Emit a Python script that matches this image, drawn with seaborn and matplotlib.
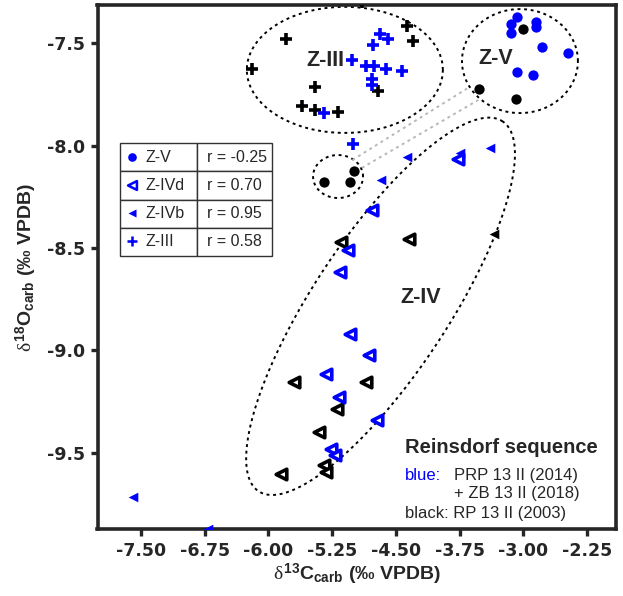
import numpy as np
import pandas as pd
import matplotlib
matplotlib.use("Agg")
import matplotlib.pyplot as plt
import seaborn as sns

# --- data: d13C (x) / d18O (y), per zone and data source ---
zv_blue_x = [-3.07, -3.14, -3.15, -2.85, -2.85, -2.78, -2.48, -3.08, -2.89]
zv_blue_y = [-7.373, -7.406, -7.451, -7.394, -7.419, -7.520, -7.549, -7.640, -7.653]
zv_black_x = [-3.01, -3.52, -3.09, -5.35, -5.04, -4.99]
zv_black_y = [-7.430, -7.725, -7.774, -8.176, -8.176, -8.126]

zivd_blue_x = [-3.77, -4.78, -5.06, -5.16, -5.04, -4.82, -5.32, -5.17, -4.72, -5.26, -5.21]
zivd_blue_y = [-8.065, -8.315, -8.510, -8.616, -8.921, -9.025, -9.116, -9.227, -9.341, -9.483, -9.512]
zivd_black_x = [-5.15, -4.35, -5.70, -4.85, -5.19, -5.40, -5.34, -5.32, -5.85]
zivd_black_y = [-8.470, -8.458, -9.157, -9.157, -9.287, -9.401, -9.561, -9.594, -9.605]

zivb_blue_x = [-4.37, -3.39, -4.68, -3.75, -7.59, -6.71]
zivb_blue_y = [-8.054, -8.012, -8.168, -8.035, -9.719, -9.875]
zivb_black_x = [-3.35]
zivb_black_y = [-8.432]

ziii_blue_x = [-4.69, -4.59, -4.77, -5.01, -4.85, -4.76, -4.62, -4.43, -4.78, -4.78, -5.34, -5.00]
ziii_blue_y = [-7.456, -7.480, -7.510, -7.583, -7.611, -7.611, -7.624, -7.634, -7.673, -7.704, -7.839, -7.992]
ziii_black_x = [-5.79, -6.19, -5.45, -5.60, -5.45, -5.18, -4.37, -4.30, -4.71, -4.90]
ziii_black_y = [-7.479, -7.624, -7.715, -7.806, -7.826, -7.837, -7.414, -7.490, -7.733, -7.300]

zones = ['Z-V', 'Z-IVd', 'Z-IVb', 'Z-III']
r_values = ['r = -0.25', 'r = 0.70', 'r = 0.95', 'r = 0.58']

x_ticks = [-7.50, -6.75, -6.00, -5.25, -4.50, -3.75, -3.00, -2.25]
y_ticks = [-7.5, -8.0, -8.5, -9.0, -9.5]

BLUE = '#0000ff'
BLACK = '#000000'


def build_frame():
    parts = []
    groups = [
        ('Z-V', 'blue', zv_blue_x, zv_blue_y), ('Z-V', 'black', zv_black_x, zv_black_y),
        ('Z-IVd', 'blue', zivd_blue_x, zivd_blue_y), ('Z-IVd', 'black', zivd_black_x, zivd_black_y),
        ('Z-IVb', 'blue', zivb_blue_x, zivb_blue_y), ('Z-IVb', 'black', zivb_black_x, zivb_black_y),
        ('Z-III', 'blue', ziii_blue_x, ziii_blue_y), ('Z-III', 'black', ziii_black_x, ziii_black_y),
    ]
    for zone, source, xs, ys in groups:
        parts.append(pd.DataFrame({'d13C': xs, 'd18O': ys, 'zone': zone, 'source': source}))
    return pd.concat(parts, ignore_index=True)


def marker_kws(zone, color, scale=1.0):
    if zone == 'Z-V':
        return dict(marker='o', s=55 * scale, facecolor=color, edgecolor=color, linewidth=0)
    if zone == 'Z-IVd':
        return dict(marker='<', s=58 * scale, facecolor='white', edgecolor=color, linewidth=2.6 * scale)
    if zone == 'Z-IVb':
        return dict(marker='<', s=48 * scale, facecolor=color, edgecolor=color, linewidth=0)
    return dict(marker='+', s=64 * scale, color=color, edgecolor=None, linewidth=2.6 * scale)


def draw_ellipse(ax, center, u, v, **kwargs):
    # affine image of a circle -> works with unequal axis scaling
    t = np.linspace(0, 2 * np.pi, 400)
    ax.plot(center[0] + np.cos(t) * u[0] + np.sin(t) * v[0],
            center[1] + np.cos(t) * u[1] + np.sin(t) * v[1], **kwargs)


sns.set_style("ticks")
plt.rcParams['font.family'] = ['Liberation Sans', 'DejaVu Sans']
plt.rcParams['mathtext.fontset'] = 'custom'
plt.rcParams['mathtext.rm'] = 'Liberation Sans'
plt.rcParams['mathtext.bf'] = 'Liberation Sans:bold'
plt.rcParams['mathtext.it'] = 'Liberation Serif'

df = build_frame()

fig = plt.figure(figsize=(6.23, 5.96), dpi=100)
ax = fig.add_axes([97.5 / 623, 67 / 596, 518.5 / 623, 524 / 596])

for zone in zones:
    for source, color in [('black', BLACK), ('blue', BLUE)]:
        sub = df[(df.zone == zone) & (df.source == source)]
        sns.scatterplot(data=sub, x='d13C', y='d18O', ax=ax, zorder=3, **marker_kws(zone, color))

# dotted grouping ellipses
dots = dict(color='black', linestyle=(0, (1.5, 1.9)), linewidth=1.4, zorder=2)
draw_ellipse(ax, (-5.10, -7.630), (1.153, 0), (0, 0.308), **dots)
draw_ellipse(ax, (-3.04, -7.587), (0.682, 0), (0, 0.254), **dots)
draw_ellipse(ax, (-5.18, -8.151), (0.294, 0), (0, 0.105), **dots)
draw_ellipse(ax, (-4.68, -8.785), (1.43, 0.905), (0.675, -0.175), **dots)

# grey connectors small cluster -> Z-V
grey = dict(color='#b8b8b8', linestyle=(0, (1.5, 1.9)), linewidth=1.4, zorder=2)
ax.plot([-5.01, -3.65], [-8.070, -7.718], **grey)
ax.plot([-4.90, -3.53], [-8.109, -7.777], **grey)

# zone labels
lab = dict(fontsize=15.5, fontweight='bold', ha='center', va='center', zorder=4)
ax.text(-5.33, -7.585, 'Z-III', **lab)
ax.text(-3.33, -7.572, 'Z-V', **lab)
ax.text(-4.21, -8.740, 'Z-IV', **lab)

# source notes
ax.text(0.593, 0.1546, 'Reinsdorf sequence', transform=ax.transAxes, fontsize=14.5,
        fontweight='bold', va='center', ha='left')
ax.text(0.593, 0.103, 'blue:', transform=ax.transAxes, fontsize=12, color=BLUE, va='center')
ax.text(0.6866, 0.103, 'PRP 13 II (2014)', transform=ax.transAxes, fontsize=12, va='center')
ax.text(0.6866, 0.0687, '+ ZB 13 II (2018)', transform=ax.transAxes, fontsize=12, va='center')
ax.text(0.593, 0.0305, 'black: RP 13 II (2003)', transform=ax.transAxes, fontsize=12, va='center')

# legend as table with correlation coefficients
tbl = ax.table(cellText=[[z, r] for z, r in zip(zones, r_values)], cellLoc='left',
               colWidths=[77 / 152, 75 / 152], bbox=[0.0434, 0.521, 0.293, 0.2156], zorder=5)
tbl.auto_set_font_size(False)
tbl.set_fontsize(11.5)
for (row, col), cell in tbl.get_celld().items():
    cell.set_edgecolor('#333333')
    cell.set_linewidth(1.0)
    cell.PAD = 0.325 if col == 0 else 0.13
row_y = [0.710, 0.656, 0.603, 0.550]
for zone, yy in zip(zones, row_y):
    kws = marker_kws(zone, BLUE, scale=0.7)
    ax.scatter([0.0665], [yy], transform=ax.transAxes, clip_on=False, zorder=6, **kws)

ax.set_xlim(-8.01, -1.91)
ax.set_ylim(-9.873, -7.313)
ax.set_xticks(x_ticks)
ax.set_xticklabels([f'{t:.2f}' for t in x_ticks])
ax.set_yticks(y_ticks)
ax.set_yticklabels([f'{t:.1f}' for t in y_ticks])
ax.tick_params(width=2.4, length=5, pad=4, labelsize=12.5)
for lbl in ax.get_xticklabels() + ax.get_yticklabels():
    lbl.set_fontfamily('DejaVu Sans')
    lbl.set_fontweight('bold')
for sp in ax.spines.values():
    sp.set_linewidth(2.6)

ax.set_xlabel(r'$\delta^{\mathbf{13}}\mathbf{C}_{\mathbf{carb}}$ (‰ VPDB)', fontsize=14,
              fontweight='bold', labelpad=2)
ax.set_ylabel(r'$\delta^{\mathbf{18}}\mathbf{O}_{\mathbf{carb}}$ (‰ VPDB)', fontsize=14,
              fontweight='bold', labelpad=6)

fig.savefig('out.png', dpi=100)
